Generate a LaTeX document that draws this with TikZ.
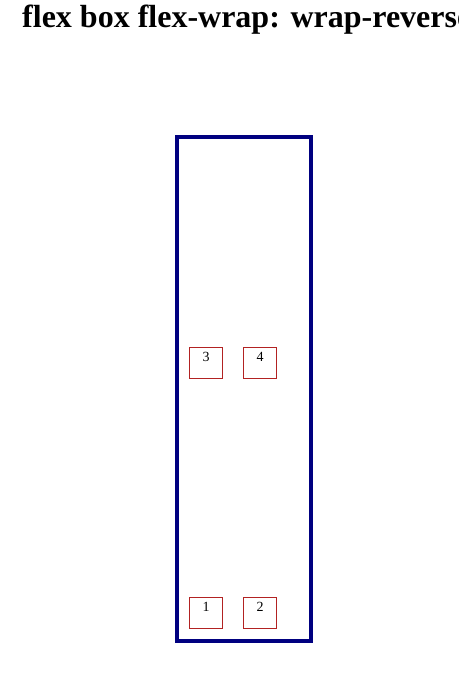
\documentclass[tikz,border=0pt]{standalone}
\usepackage{fontspec}
\setmainfont{Liberation Serif}
\definecolor{boxnavy}{RGB}{0,0,128}
\definecolor{itemred}{RGB}{178,34,34}
\begin{document}
\begin{tikzpicture}[x=1pt,y=-1pt,
  container/.style={draw=boxnavy,line width=4pt,minimum width=134pt,minimum height=504pt,inner sep=0pt},
  item/.style={draw=itemred,line width=1pt,minimum width=33pt,inner sep=0pt,
    text width=33pt,align=center,text height=14pt,text depth=17pt,font=\fontsize{14}{14}\selectfont}]
\useasboundingbox (0,0) rectangle (458,692);
\node[anchor=base west,inner sep=0pt,font=\bfseries\fontsize{32}{32}\selectfont] (title) at (22,28) {flex box flex-wrap: wrap-reverse};

\node[container] (flex) at (244,389) {};
\node[item] (b3) at (206,363) {3};
\node[item] (b4) at (260,363) {4};
\node[item] (b1) at (206,613) {1};
\node[item] (b2) at (260,613) {2};
\end{tikzpicture}
\end{document}
